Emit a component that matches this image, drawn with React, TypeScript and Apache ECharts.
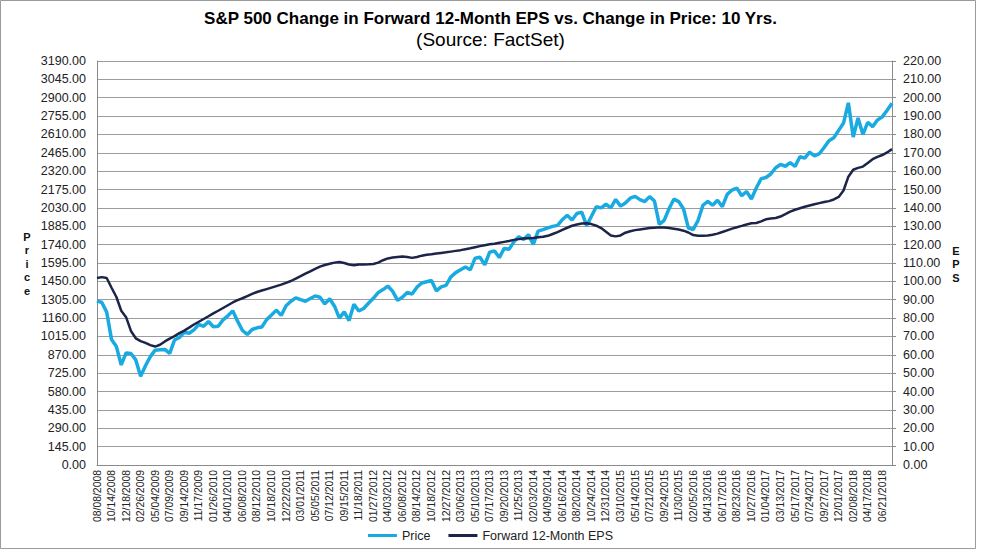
import React, { useEffect, useRef } from "react";
import * as echarts from "echarts";

const dateLabels = [
  "08/08/2008", "10/14/2008", "12/18/2008", "02/26/2009", "05/04/2009", "07/09/2009", "09/14/2009", "11/17/2009",
  "01/26/2010", "04/01/2010", "06/08/2010", "08/12/2010", "10/18/2010", "12/22/2010", "03/01/2011", "05/05/2011",
  "07/12/2011", "09/15/2011", "11/18/2011", "01/27/2012", "04/03/2012", "06/08/2012", "08/14/2012", "10/18/2012",
  "12/27/2012", "03/06/2013", "05/10/2013", "07/17/2013", "09/20/2013", "11/25/2013", "02/03/2014", "04/09/2014",
  "06/16/2014", "08/20/2014", "10/24/2014", "12/31/2014", "03/10/2015", "05/14/2015", "07/21/2015", "09/24/2015",
  "11/30/2015", "02/05/2016", "04/13/2016", "06/17/2016", "08/23/2016", "10/27/2016", "01/04/2017", "03/13/2017",
  "05/17/2017", "07/24/2017", "09/27/2017", "12/01/2017", "02/08/2018", "04/17/2018", "06/21/2018",
];

// three samples per labelled interval (label, then two unlabelled points)
const categories = dateLabels.flatMap((d) => [d, "", ""]);

const price = [
  1296, 1283, 1207, 990, 935, 790, 885, 880, 830, 700, 784, 856, 907, 910, 912,
  882, 987, 1007, 1049, 1040, 1067, 1110, 1095, 1133, 1092, 1095, 1146, 1178, 1217, 1136,
  1062, 1031, 1070, 1083, 1090, 1148, 1184, 1223, 1181, 1258, 1293, 1320, 1306, 1293, 1314,
  1335, 1325, 1272, 1313, 1254, 1160, 1209, 1140, 1270, 1216, 1236, 1277, 1316, 1361, 1385,
  1413, 1371, 1300, 1325, 1362, 1350, 1404, 1437, 1447, 1457, 1375, 1407, 1418, 1486, 1519,
  1541, 1563, 1541, 1633, 1640, 1580, 1681, 1690, 1638, 1710, 1703, 1762, 1802, 1781, 1819,
  1742, 1847, 1858, 1872, 1884, 1892, 1937, 1972, 1935, 1986, 1997, 1890, 1964, 2039, 2030,
  2059, 2030, 2097, 2044, 2068, 2107, 2121, 2095, 2080, 2119, 2084, 1900, 1932, 2023, 2099,
  2080, 2021, 1870, 1860, 1932, 2051, 2082, 2051, 2090, 2040, 2137, 2171, 2186, 2126, 2160,
  2100, 2187, 2260, 2270, 2298, 2347, 2373, 2359, 2388, 2357, 2434, 2423, 2470, 2440, 2458,
  2507, 2561, 2584, 2642, 2700, 2860, 2590, 2740, 2610, 2706, 2672, 2724, 2749, 2801, 2856,
];

const eps = [
  101.8, 102.3, 101.8, 96.5, 91.5, 84, 80.5, 73, 69, 67.5, 66.5, 65.3, 64.5, 65.5, 67.3,
  68.8, 70.2, 71.8, 73.2, 74.8, 76.5, 78, 79.5, 81, 82.6, 84, 85.5, 87, 88.5, 89.8,
  90.8, 92, 93.2, 94.2, 95, 95.8, 96.6, 97.4, 98.2, 99.2, 100.2, 101.5, 102.8, 104.2, 105.5,
  106.8, 108, 108.9, 109.6, 110.2, 110.5, 110, 109.2, 108.8, 109.2, 109.2, 109.3, 109.5, 110.2, 111.5,
  112.5, 113, 113.3, 113.6, 113.3, 112.8, 113.3, 114, 114.5, 114.8, 115.2, 115.5, 115.8, 116.2, 116.6,
  117, 117.5, 118, 118.6, 119.2, 119.7, 120.2, 120.5, 121, 121.5, 122, 122.6, 123, 123.3, 123.5,
  123.6, 124, 124.3, 124.8, 125.8, 126.8, 128, 129.2, 130.3, 131, 131.5, 131.6, 131.2, 130.3, 129,
  127, 125, 124.5, 125, 126.5, 127.3, 127.9, 128.3, 128.7, 129, 129.2, 129.4, 129.3, 129, 128.6,
  128.2, 127.6, 126.6, 125.2, 124.9, 124.9, 125, 125.4, 126, 126.9, 127.8, 128.7, 129.5, 130.2, 131,
  131.6, 131.8, 132.7, 133.8, 134.2, 134.5, 135.3, 136.6, 138, 139, 139.8, 140.6, 141.3, 142, 142.6,
  143.2, 143.7, 144.6, 146, 149.5, 157, 160.8, 161.8, 162.5, 164.5, 166.5, 167.8, 168.8, 170.2, 172,
];

const priceMax = 3190;
const priceStep = 145;
const epsMax = 220;
const epsStep = 10;

const FONT = "'Liberation Sans', Arial, Helvetica, sans-serif";
const PRICE_COLOR = "#1AAAE2";
const EPS_COLOR = "#1C2449";

export default function App() {
  const ref = useRef<HTMLDivElement>(null);

  useEffect(() => {
    if (!ref.current) return;
    const chart = echarts.init(ref.current, null, { renderer: "svg" });
    chart.setOption({
      animation: false,
      backgroundColor: "#ffffff",
      textStyle: { fontFamily: FONT },
      title: {
        text: "S&P 500 Change in Forward 12-Month EPS vs. Change in Price: 10 Yrs.",
        subtext: "(Source: FactSet)",
        left: "center",
        top: 5,
        itemGap: 3,
        textStyle: { fontFamily: FONT, fontSize: 17, fontWeight: "bold", color: "#000" },
        subtextStyle: { fontFamily: FONT, fontSize: 19, color: "#000" },
      },
      legend: {
        bottom: 7,
        left: "center",
        itemWidth: 29,
        itemHeight: 3,
        itemGap: 18,
        icon: "rect",
        textStyle: { fontFamily: FONT, fontSize: 12.5, color: "#222" },
        data: ["Price", "Forward 12-Month EPS"],
      },
      grid: { left: 97, right: 89, top: 61, bottom: 89, containLabel: false },
      xAxis: {
        type: "category",
        data: categories,
        boundaryGap: false,
        axisLine: { show: true, lineStyle: { color: "#8a8a8a", width: 1 } },
        axisTick: { show: false },
        axisLabel: {
          interval: 0,
          rotate: 90,
          fontSize: 10.4,
          margin: 5,
          color: "#222",
          fontFamily: FONT,
        },
        splitLine: { show: false },
      },
      yAxis: [
        {
          type: "value",
          min: 0,
          max: priceMax,
          interval: priceStep,
          position: "left",
          axisLine: { show: true, lineStyle: { color: "#8a8a8a" } },
          axisTick: { show: false },
          axisLabel: {
            formatter: (v: number) => v.toFixed(2),
            fontSize: 12.5,
            color: "#222",
            margin: 11,
            fontFamily: FONT,
          },
          splitLine: { show: true, lineStyle: { color: "#9c9c9c", width: 1 } },
        },
        {
          type: "value",
          min: 0,
          max: epsMax,
          interval: epsStep,
          position: "right",
          axisLine: { show: true, lineStyle: { color: "#8a8a8a" } },
          axisTick: { show: true, inside: false, length: 4, lineStyle: { color: "#8a8a8a" } },
          axisLabel: {
            formatter: (v: number) => v.toFixed(2),
            fontSize: 12.5,
            color: "#222",
            margin: 11,
            fontFamily: FONT,
          },
          splitLine: { show: false },
        },
      ],
      graphic: [
        {
          type: "rect",
          shape: { x: 0.5, y: 0.5, width: 975, height: 548 },
          style: { fill: "none", stroke: "#9a9a9a", lineWidth: 1 },
          silent: true,
        },
        {
          type: "text",
          x: 27,
          y: 230,
          style: {
            text: "P\nr\ni\nc\ne",
            fontFamily: FONT,
            fontSize: 11,
            fontWeight: "bold",
            lineHeight: 13.5,
            align: "center",
            fill: "#111",
          },
        },
        {
          type: "text",
          x: 956,
          y: 244,
          style: {
            text: "E\nP\nS",
            fontFamily: FONT,
            fontSize: 11,
            fontWeight: "bold",
            lineHeight: 13.5,
            align: "center",
            fill: "#111",
          },
        },
      ],
      series: [
        {
          name: "Price",
          type: "line",
          data: price,
          yAxisIndex: 0,
          showSymbol: false,
          symbol: "none",
          lineStyle: { color: PRICE_COLOR, width: 3.5 },
          itemStyle: { color: PRICE_COLOR },
          z: 2,
        },
        {
          name: "Forward 12-Month EPS",
          type: "line",
          data: eps,
          yAxisIndex: 1,
          showSymbol: false,
          symbol: "none",
          lineStyle: { color: EPS_COLOR, width: 2.5 },
          itemStyle: { color: EPS_COLOR },
          z: 3,
        },
      ],
    });
    return () => chart.dispose();
  }, []);

  return (
    <div
      ref={ref}
      style={{ position: "fixed", left: 0, top: 0, width: 981, height: 554, background: "#fff" }}
    />
  );
}
